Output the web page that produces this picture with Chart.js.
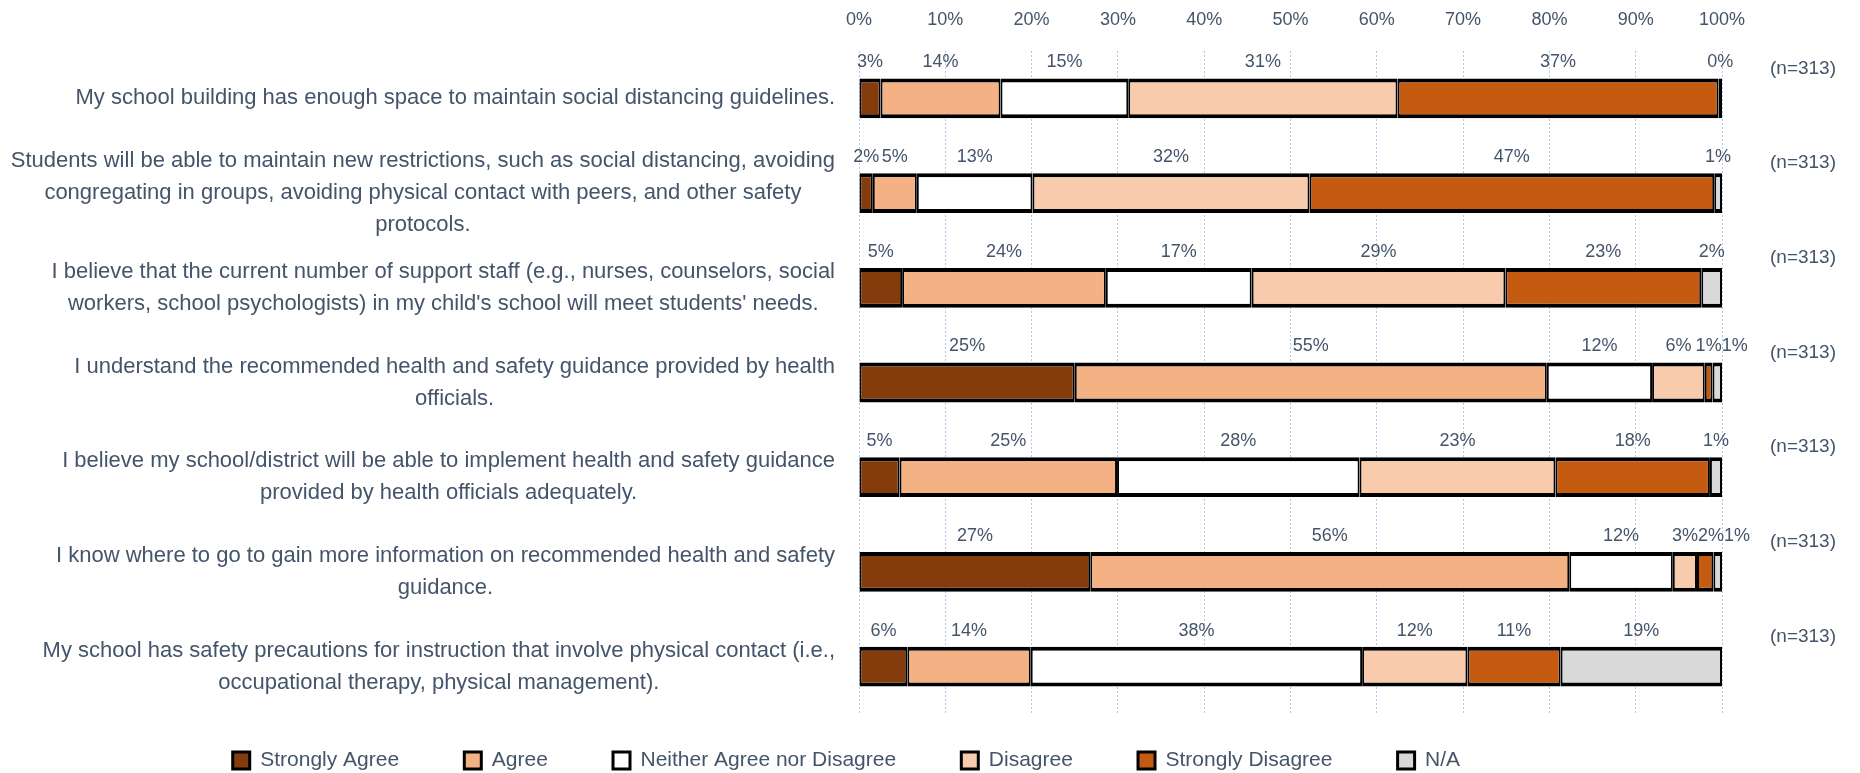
<!DOCTYPE html>
<html>
<head>
<meta charset="utf-8">
<script src="https://cdn.jsdelivr.net/npm/chart.js@4.4.0/dist/chart.umd.min.js"></script>
<style>
  html, body { margin: 0; padding: 0; background: #fff; }
  #wrap { width: 1860px; height: 773px; }
</style>
</head>
<body>
<div id="wrap"><canvas id="surveyChart"></canvas></div>
<script>
const categories = [
    ['My school building has enough space to maintain social distancing guidelines.'],
    ['Students will be able to maintain new restrictions, such as social distancing, avoiding',
     'congregating in groups, avoiding physical contact with peers, and other safety',
     'protocols.'],
    ['I believe that the current number of support staff (e.g., nurses, counselors, social',
     "workers, school psychologists) in my child's school will meet students' needs."],
    ['I understand the recommended health and safety guidance provided by health',
     'officials.'],
    ['I believe my school/district will be able to implement health and safety guidance',
     'provided by health officials adequately.'],
    ['I know where to go to gain more information on recommended health and safety',
     'guidance.'],
    ['My school has safety precautions for instruction that involve physical contact (i.e.,',
     'occupational therapy, physical management).']
];

const stronglyAgree    = [2.5, 1.6, 5.0, 25.0, 4.7, 26.8, 5.6];
const agree            = [13.9, 5.1, 23.6, 54.7, 25.2, 55.5, 14.3];
const neither          = [14.8, 13.4, 16.9, 12.2, 28.1, 12.0, 38.4];
const disagree         = [31.2, 32.1, 29.4, 6.1, 22.7, 2.8, 12.2];
const stronglyDisagree = [37.2, 46.9, 22.7, 0.9, 17.9, 1.9, 10.8];
const notApplicable    = [0.4, 0.9, 2.4, 1.1, 1.4, 1.0, 18.7];
const respondents      = [313, 313, 313, 313, 313, 313, 313];

const xTicks = [0, 10, 20, 30, 40, 50, 60, 70, 80, 90, 100];

const textColor = '#44546A';
const fontName = '"Liberation Sans", Arial, sans-serif';

function segment(label, data, color) {
    return {
        label: label,
        data: data,
        backgroundColor: color,
        borderColor: '#000',
        borderWidth: { top: 4, bottom: 4, left: 2, right: 2 },
        borderSkipped: false,
        barPercentage: 0.42,
        categoryPercentage: 1
    };
}

// wrapped category labels: block right aligned, lines centered inside it
const categoryLabels = {
    id: 'categoryLabels',
    afterDraw(chart) {
        const ctx = chart.ctx;
        const yScale = chart.scales.y;
        const right = chart.chartArea.left - 24;
        const lh = 32;
        ctx.save();
        ctx.font = '22px ' + fontName;
        ctx.fillStyle = textColor;
        ctx.textAlign = 'center';
        ctx.textBaseline = 'middle';
        categories.forEach((lines, i) => {
            const yc = yScale.getPixelForValue(i);
            const maxW = Math.max(...lines.map(l => ctx.measureText(l).width));
            const cx = right - maxW / 2;
            const top = yc - (lines.length - 1) * lh / 2;
            lines.forEach((l, j) => ctx.fillText(l, cx, top + j * lh));
        });
        ctx.restore();
    }
};

// percentage labels over each segment, plus the (n=...) column
const valueLabels = {
    id: 'valueLabels',
    afterDatasetsDraw(chart) {
        const ctx = chart.ctx;
        const yScale = chart.scales.y;
        const metas = chart.data.datasets.map((ds, d) => chart.getDatasetMeta(d));
        ctx.save();
        ctx.font = '18px ' + fontName;
        ctx.fillStyle = textColor;
        ctx.textAlign = 'center';
        ctx.textBaseline = 'middle';
        categories.forEach((c, i) => {
            let lastRight = -Infinity;
            chart.data.datasets.forEach((ds, d) => {
                const bar = metas[d].data[i];
                const text = Math.round(ds.data[i]) + '%';
                const w = ctx.measureText(text).width;
                let x = (bar.x + bar.base) / 2;
                // push a label right if it would sit on top of the previous one
                if (x - w / 2 < lastRight) x = lastRight + w / 2;
                lastRight = x + w / 2;
                ctx.fillText(text, x, bar.y - 36);
            });
        });
        ctx.font = '19px ' + fontName;
        respondents.forEach((n, i) => {
            const y = yScale.getPixelForValue(i) - 30;
            ctx.fillText('(n=' + n + ')', chart.chartArea.right + 81, y);
        });
        ctx.restore();
    }
};

const ctx = document.getElementById('surveyChart').getContext('2d');
const myChart = new Chart(ctx, {
    type: 'bar',
    data: {
        labels: categories.map(c => c.join(' ')),
        datasets: [
            segment('Strongly Agree', stronglyAgree, '#843C0C'),
            segment('Agree', agree, '#F4B183'),
            segment('Neither Agree nor Disagree', neither, '#FFFFFF'),
            segment('Disagree', disagree, '#F8CBAD'),
            segment('Strongly Disagree', stronglyDisagree, '#C55A11'),
            segment('N/A', notApplicable, '#D9D9D9')
        ]
    },
    options: {
        indexAxis: 'y',
        responsive: true,
        maintainAspectRatio: false,
        animation: false,
        layout: { padding: { left: 0, right: 138, top: 0, bottom: -8 } },
        scales: {
            x: {
                position: 'top',
                stacked: true,
                min: 0,
                max: 100,
                afterBuildTicks: (scale) => { scale.ticks = xTicks.map(v => ({ value: v })); },
                afterFit: (scale) => { scale.height = 51; },
                ticks: {
                    padding: 20,
                    color: textColor,
                    font: { family: fontName, size: 18 },
                    callback: (v) => v + '%'
                },
                grid: { color: '#B4C7E7', lineWidth: 1, drawTicks: false },
                border: { display: false, dash: [2, 2] }
            },
            y: {
                stacked: true,
                afterFit: (scale) => { scale.width = 859; },
                ticks: { display: false },
                grid: { display: false },
                border: { display: false }
            }
        },
        plugins: {
            legend: {
                position: 'bottom',
                labels: {
                    color: textColor,
                    font: { family: fontName, size: 21 },
                    boxWidth: 17,
                    boxHeight: 17,
                    padding: 36,
                    // trailing spaces widen the gap between items without growing the legend height
                    generateLabels: (chart) => Chart.defaults.plugins.legend.labels.generateLabels(chart)
                        .map(item => Object.assign(item, { text: item.text + '     ' }))
                }
            },
            tooltip: { enabled: false }
        }
    },
    plugins: [categoryLabels, valueLabels]
});
</script>
</body>
</html>
